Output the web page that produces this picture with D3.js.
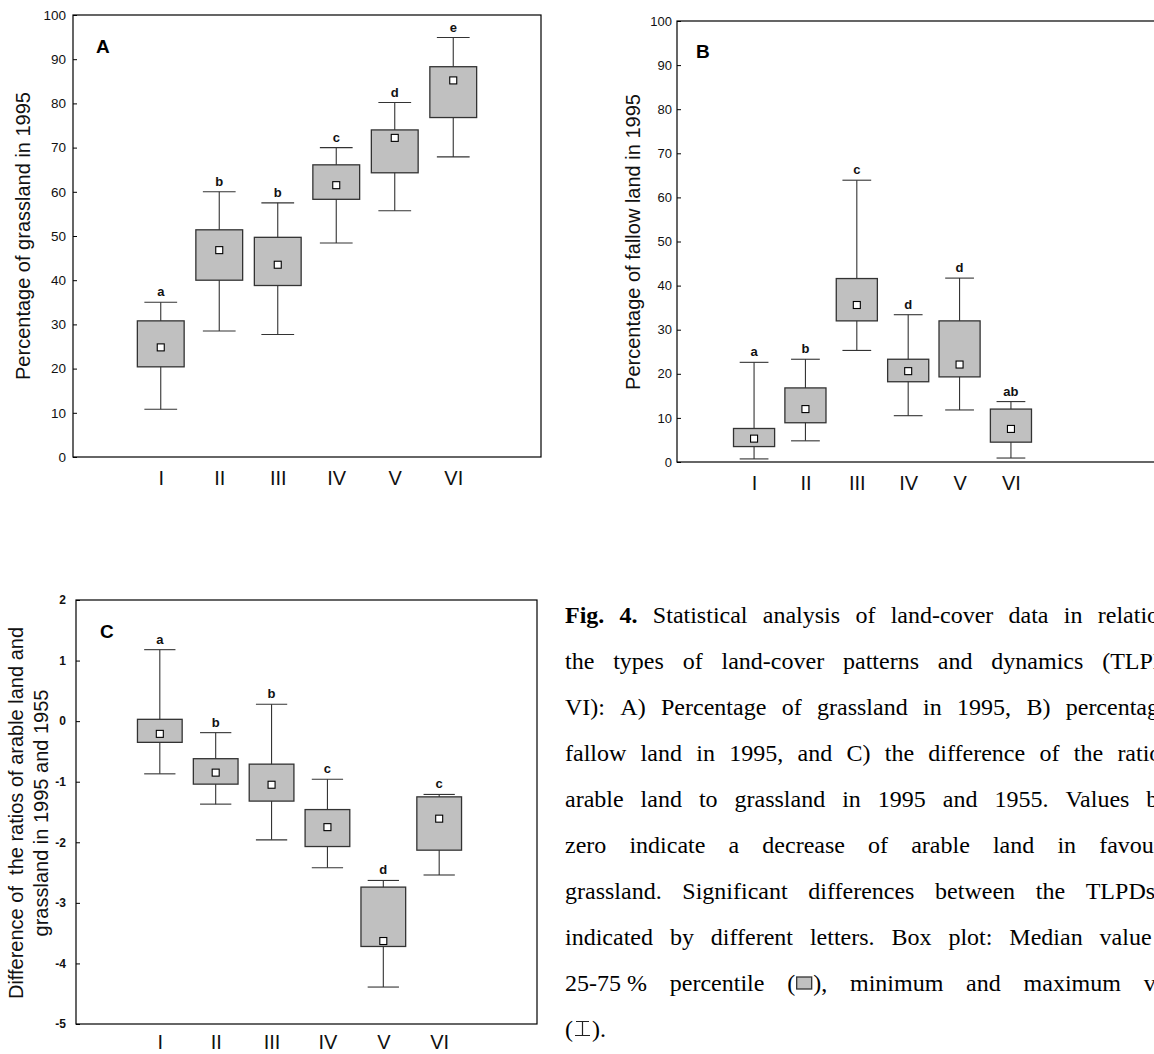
<!DOCTYPE html>
<html><head><meta charset="utf-8">
<script src="https://cdn.jsdelivr.net/npm/d3@7"></script>
<style>body{margin:0;background:#fff;overflow:hidden} svg{display:block}</style>
</head><body>
<script>
// ---------- data ----------
const categories = ["I", "II", "III", "IV", "V", "VI"];

// Panel A: percentage of grassland in 1995
const grassMin    = [10.8, 28.5, 27.7, 48.4, 55.7, 67.9];
const grassQ1     = [20.4, 40.0, 38.8, 58.3, 64.3, 76.8];
const grassMedian = [24.8, 46.8, 43.5, 61.5, 72.2, 85.2];
const grassQ3     = [30.8, 51.4, 49.7, 66.1, 74.0, 88.3];
const grassMax    = [35.0, 60.0, 57.5, 70.0, 80.2, 94.9];
const grassLetters = ["a", "b", "b", "c", "d", "e"];
const grassTicks = [0, 10, 20, 30, 40, 50, 60, 70, 80, 90, 100];

// Panel B: percentage of fallow land in 1995
const fallowMin    = [0.7, 4.8, 25.3, 10.5, 11.8, 0.9];
const fallowQ1     = [3.5, 8.9, 32.0, 18.2, 19.3, 4.5];
const fallowMedian = [5.3, 12.0, 35.6, 20.6, 22.1, 7.5];
const fallowQ3     = [7.6, 16.8, 41.6, 23.3, 32.0, 12.0];
const fallowMax    = [22.6, 23.3, 63.9, 33.4, 41.7, 13.7];
const fallowLetters = ["a", "b", "c", "d", "d", "ab"];
const fallowTicks = [0, 10, 20, 30, 40, 50, 60, 70, 80, 90, 100];

// Panel C: difference of the ratios arable land / grassland 1995 vs 1955
const ratioMin    = [-0.87, -1.37, -1.96, -2.42, -4.39, -2.54];
const ratioQ1     = [-0.35, -1.04, -1.32, -2.07, -3.72, -2.13];
const ratioMedian = [-0.21, -0.85, -1.05, -1.75, -3.63, -1.61];
const ratioQ3     = [0.03, -0.62, -0.71, -1.46, -2.74, -1.25];
const ratioMax    = [1.18, -0.19, 0.28, -0.96, -2.63, -1.21];
const ratioLetters = ["a", "b", "b", "c", "d", "c"];
const ratioTicks = [-5, -4, -3, -2, -1, 0, 1, 2];

const captionLines = [
  "Fig. 4. Statistical analysis of land-cover data in relation to",
  "the types of land-cover patterns and dynamics (TLPD I-",
  "VI): A) Percentage of grassland in 1995, B) percentage of",
  "fallow land in 1995, and C) the difference of the ratios of",
  "arable land to grassland in 1995 and 1955. Values below",
  "zero indicate a decrease of arable land in favour of",
  "grassland. Significant differences between the TLPDs are",
  "indicated by different letters. Box plot: Median value (\u25A1),",
  "25-75\u00A0% percentile (\u25AD), minimum and maximum values",
  "(\u22A5)."
];

// ---------- drawing ----------
const W = 1154, H = 1054;
const svg = d3.select("body").append("svg").attr("width", W).attr("height", H)
  .style("font-family", "'Liberation Sans', Arial, sans-serif");

function panel(cfg) {
  const g = svg.append("g");
  const x = d3.scalePoint().domain(categories).range(cfg.xRange).padding(1.5);
  const y = d3.scaleLinear().domain(cfg.yDomain).range([cfg.bottom, cfg.top]);
  const step = x.step();
  const boxW = step * 0.8, capW = step * 0.56, med = 7;

  // frame
  g.append("rect").attr("x", cfg.left).attr("y", cfg.top)
    .attr("width", cfg.right - cfg.left).attr("height", cfg.bottom - cfg.top)
    .attr("fill", "none").attr("stroke", "#000").attr("stroke-width", 1.2);

  // y axis
  const ya = g.append("g").attr("transform", `translate(${cfg.left},0)`)
    .call(d3.axisLeft(y).tickValues(cfg.ticks).tickSize(-4).tickSizeOuter(0)
      .tickPadding(cfg.tickPad).tickFormat(d => String(d)));
  ya.select(".domain").remove();
  ya.selectAll(".tick line").attr("stroke", "#000");
  ya.selectAll(".tick text").attr("font-family", "'Liberation Sans', Arial, sans-serif")
    .attr("font-size", cfg.tickFont).attr("font-weight", cfg.tickBold ? "bold" : "normal")
    .attr("fill", "#111");

  // x axis labels
  const xa = g.append("g").attr("transform", `translate(0,${cfg.bottom})`)
    .call(d3.axisBottom(x).tickSize(0).tickPadding(cfg.xPad));
  xa.select(".domain").remove();
  xa.selectAll(".tick text").attr("font-family", "'Liberation Sans', Arial, sans-serif")
    .attr("font-size", 20).attr("fill", "#111");

  const rows = categories.map((c, i) => ({
    c, min: cfg.min[i], q1: cfg.q1[i], med: cfg.med[i], q3: cfg.q3[i], max: cfg.max[i], letter: cfg.letters[i]
  }));
  const b = g.selectAll(".bx").data(rows).join("g").attr("class", "bx");
  b.append("line").attr("x1", d => x(d.c)).attr("x2", d => x(d.c))
    .attr("y1", d => y(d.max)).attr("y2", d => y(d.min))
    .attr("stroke", "#333").attr("stroke-width", 1.1);
  b.append("line").attr("x1", d => x(d.c) - capW / 2).attr("x2", d => x(d.c) + capW / 2)
    .attr("y1", d => y(d.max)).attr("y2", d => y(d.max))
    .attr("stroke", "#333").attr("stroke-width", 1.1);
  b.append("line").attr("x1", d => x(d.c) - capW / 2).attr("x2", d => x(d.c) + capW / 2)
    .attr("y1", d => y(d.min)).attr("y2", d => y(d.min))
    .attr("stroke", "#333").attr("stroke-width", 1.1);
  b.append("rect").attr("x", d => x(d.c) - boxW / 2).attr("width", boxW)
    .attr("y", d => y(d.q3)).attr("height", d => y(d.q1) - y(d.q3))
    .attr("fill", "#c0c0c0").attr("stroke", "#333").attr("stroke-width", 1.3);
  b.append("rect").attr("x", d => x(d.c) - med / 2).attr("y", d => y(d.med) - med / 2)
    .attr("width", med).attr("height", med)
    .attr("fill", "#fff").attr("stroke", "#000").attr("stroke-width", 1.1);
  b.append("text").attr("x", d => x(d.c)).attr("y", d => y(d.max) - 6)
    .attr("text-anchor", "middle").attr("font-size", 13).attr("font-weight", "bold")
    .attr("fill", "#111").text(d => d.letter);

  // panel letter
  g.append("text").attr("x", cfg.labelX).attr("y", cfg.labelY)
    .attr("font-size", 19).attr("font-weight", "bold").attr("fill", "#000").text(cfg.label);

  // y title
  cfg.title.forEach((t, i) => {
    g.append("text")
      .attr("transform", `translate(${cfg.titleX[i]},${cfg.titleY}) rotate(-90)`)
      .attr("text-anchor", "middle").attr("font-size", 20).attr("fill", "#111")
      .style("white-space", "pre").text(t);
  });
}

panel({
  left: 73, right: 541, top: 15, bottom: 457, xRange: [73, 541], xPad: 14,
  yDomain: [0, 100], ticks: grassTicks, tickPad: 7, tickFont: 13.5, tickBold: false,
  min: grassMin, q1: grassQ1, med: grassMedian, q3: grassQ3, max: grassMax, letters: grassLetters,
  label: "A", labelX: 96, labelY: 52.5,
  title: ["Percentage of grassland in 1995"], titleX: [30], titleY: 236
});

panel({
  left: 677, right: 1175, top: 21, bottom: 462, xRange: [677, 1088], xPad: 14,
  yDomain: [0, 100], ticks: fallowTicks, tickPad: 5, tickFont: 13, tickBold: false,
  min: fallowMin, q1: fallowQ1, med: fallowMedian, q3: fallowQ3, max: fallowMax, letters: fallowLetters,
  label: "B", labelX: 696, labelY: 58,
  title: ["Percentage of fallow land in 1995"], titleX: [640], titleY: 242
});

panel({
  left: 76, right: 537, top: 600, bottom: 1024, xRange: [76, 523], xPad: 11,
  yDomain: [-5, 2], ticks: ratioTicks, tickPad: 10, tickFont: 12, tickBold: true,
  min: ratioMin, q1: ratioQ1, med: ratioMedian, q3: ratioQ3, max: ratioMax, letters: ratioLetters,
  label: "C", labelX: 100, labelY: 638,
  title: ["Difference of  the ratios of arable land and", "grassland in 1995 and 1955"],
  titleX: [23, 48], titleY: 813
});

// ---------- caption (justified, word by word) ----------
const capFont = 24, capLeft = 565, capWidth = 640, capBase = 623, capLead = 46;
const cap = svg.append("g")
  .attr("font-family", "'Liberation Serif', 'Times New Roman', serif")
  .attr("font-size", capFont).attr("fill", "#000");

captionLines.forEach((line, li) => {
  const words = line.split(" ");
  const groups = words.map((w, wi) => {
    const wg = cap.append("g");
    let cursor = 0;
    const addText = (t, bold) => {
      const te = wg.append("text").attr("x", cursor).attr("y", 0)
        .attr("font-weight", bold ? "bold" : "normal").style("white-space", "pre").text(t);
      cursor += te.node().getComputedTextLength();
    };
    if (w.includes("\u25AD")) {
      addText("(");
      wg.append("rect").attr("x", cursor + 1.5).attr("y", -14).attr("width", 15).attr("height", 12)
        .attr("fill", "#c0c0c0").attr("stroke", "#333").attr("stroke-width", 1.3);
      cursor += 18;
      addText("),");
    } else if (w.includes("\u22A5")) {
      addText("(");
      wg.append("path")
        .attr("d", `M${cursor + 3},-15.5H${cursor + 16}M${cursor + 9.5},-15.5V-1.5M${cursor + 2},-1.5H${cursor + 17}`)
        .attr("stroke", "#222").attr("stroke-width", 1.2).attr("fill", "none");
      cursor += 19;
      addText(").");
    } else {
      addText(w, li === 0 && wi < 2);
    }
    return { g: wg, w: cursor };
  });
  const total = d3.sum(groups, d => d.w);
  const last = li === captionLines.length - 1;
  const gap = last ? capFont * 0.25 : (capWidth - total) / (groups.length - 1);
  let xpos = capLeft;
  groups.forEach(d => {
    d.g.attr("transform", `translate(${xpos},${capBase + li * capLead})`);
    xpos += d.w + gap;
  });
});
</script>
</body></html>
